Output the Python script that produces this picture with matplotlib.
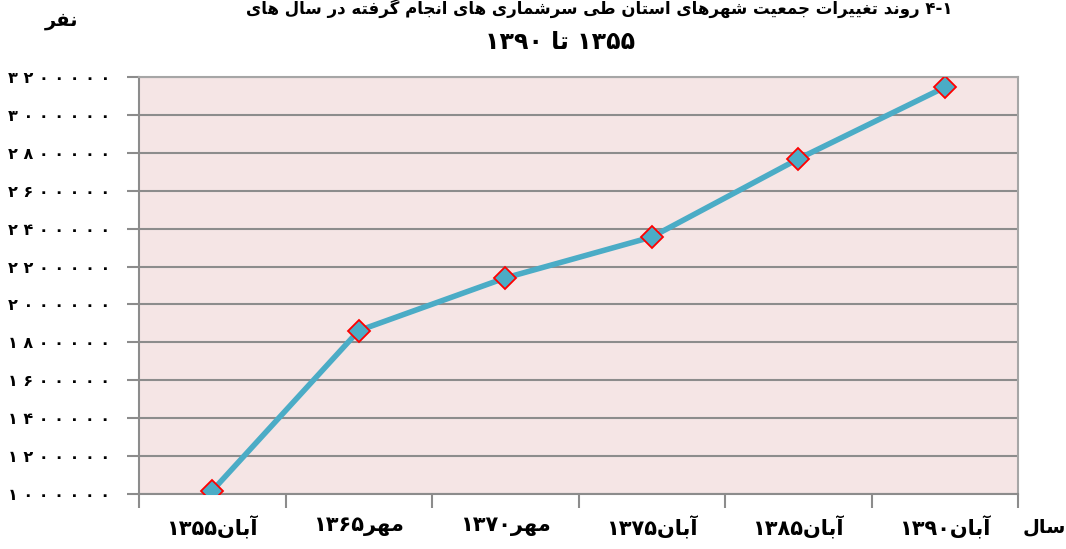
import re
import matplotlib
matplotlib.use('Agg')
import matplotlib.pyplot as plt

# data
categories = ['آبان۱۳۵۵', 'مهر۱۳۶۵', 'مهر۱۳۷۰', 'آبان۱۳۷۵', 'آبان۱۳۸۵', 'آبان۱۳۹۰']
population = [1017000, 1862000, 2140000, 2356000, 2768000, 3146000]
y_ticks = [1000000, 1200000, 1400000, 1600000, 1800000, 2000000,
           2200000, 2400000, 2600000, 2800000, 3000000, 3200000]

title_1 = '۴-۱ روند تغییرات جمعیت شهرهای استان طی سرشماری های انجام گرفته در سال های'
title_2 = '۱۳۵۵ تا ۱۳۹۰'
y_label = 'نفر'
x_label = 'سال'

# arabic presentation forms: isolated, final, initial, medial
FORMS = {
    'ا': ('\uFE8D', '\uFE8E', None, None),
    'آ': ('\uFE81', '\uFE82', None, None),
    'ب': ('\uFE8F', '\uFE90', '\uFE91', '\uFE92'),
    'ت': ('\uFE95', '\uFE96', '\uFE97', '\uFE98'),
    'ج': ('\uFE9D', '\uFE9E', '\uFE9F', '\uFEA0'),
    'د': ('\uFEA9', '\uFEAA', None, None),
    'ر': ('\uFEAD', '\uFEAE', None, None),
    'س': ('\uFEB1', '\uFEB2', '\uFEB3', '\uFEB4'),
    'ش': ('\uFEB5', '\uFEB6', '\uFEB7', '\uFEB8'),
    'ط': ('\uFEC1', '\uFEC2', '\uFEC3', '\uFEC4'),
    'ع': ('\uFEC9', '\uFECA', '\uFECB', '\uFECC'),
    'غ': ('\uFECD', '\uFECE', '\uFECF', '\uFED0'),
    'ف': ('\uFED1', '\uFED2', '\uFED3', '\uFED4'),
    'ل': ('\uFEDD', '\uFEDE', '\uFEDF', '\uFEE0'),
    'م': ('\uFEE1', '\uFEE2', '\uFEE3', '\uFEE4'),
    'ن': ('\uFEE5', '\uFEE6', '\uFEE7', '\uFEE8'),
    'ه': ('\uFEE9', '\uFEEA', '\uFEEB', '\uFEEC'),
    'و': ('\uFEED', '\uFEEE', None, None),
    'ی': ('\uFBFC', '\uFBFD', '\uFBFE', '\uFBFF'),
    'گ': ('\uFB92', '\uFB93', '\uFB94', '\uFB95'),
    'ک': ('\uFB8E', '\uFB8F', '\uFB90', '\uFB91'),
}


def shape(s):
    out = []
    for i, c in enumerate(s):
        if c not in FORMS:
            out.append(c)
            continue
        iso, fin, ini, med = FORMS[c]
        prev = s[i - 1] if i > 0 else ''
        nxt = s[i + 1] if i + 1 < len(s) else ''
        jp = prev in FORMS and FORMS[prev][2] is not None
        jn = ini is not None and nxt in FORMS
        if jp and jn:
            out.append(med)
        elif jp:
            out.append(fin)
        elif jn:
            out.append(ini)
        else:
            out.append(iso)
    return ''.join(out)


def rtl(s):
    # shape letters, then lay out right-to-left keeping digit runs as they are
    s = shape(s)
    runs = re.findall(r'[\u06F0-\u06F9\-]+|[^\u06F0-\u06F9\-]+', s)
    return ''.join(r if re.match(r'[\u06F0-\u06F9]', r) else r[::-1]
                   for r in reversed(runs))


def fa_digits(v):
    return ' '.join(str(v).translate(str.maketrans('0123456789', '۰۱۲۳۴۵۶۷۸۹')))


plt.rcParams['font.family'] = ['DejaVu Sans']
plt.rcParams['font.weight'] = 'bold'

fig = plt.figure(figsize=(10.66, 5.49), dpi=100)
ax = fig.add_axes([0.1304, 0.1002, 0.8246, 0.7595])
ax.set_facecolor('#F5E5E5')

x = list(range(len(categories)))
ax.plot(x, population, color='#4BACC6', lw=4, marker='D', ms=11,
        mfc='#4BACC6', mec='#FF0000', mew=1.3, zorder=3)

ax.set_xlim(-0.5, len(categories) - 0.5)
ax.set_ylim(y_ticks[0], y_ticks[-1])
ax.set_yticks(y_ticks)
ax.set_yticklabels([fa_digits(v) for v in y_ticks], fontsize=11.5, fontweight='bold')
ax.yaxis.grid(True, color='#8C8C8C', lw=1.5)
ax.set_axisbelow(True)

ax.set_xticks([i - 0.5 for i in range(len(categories) + 1)])
ax.set_xticklabels([])
ax.set_xticks(x, minor=True)
ax.set_xticklabels([rtl(c) for c in categories], minor=True, fontsize=15,
                   fontweight='bold')
ax.tick_params(axis='x', which='major', length=10, color='#8C8C8C', width=1.5)
ax.tick_params(axis='x', which='minor', length=0, pad=16)
ax.tick_params(axis='y', length=9, color='#8C8C8C', width=1.5, pad=12)

for side in ['left', 'bottom']:
    ax.spines[side].set_color('#8C8C8C')
    ax.spines[side].set_linewidth(1.5)
for side in ['top', 'right']:
    ax.spines[side].set_color('#A6A6A6')
    ax.spines[side].set_linewidth(1.5)

fig.text(0.562, 0.985, rtl(title_1), ha='center', va='center', fontsize=12,
         fontweight='bold')
fig.text(0.525, 0.923, rtl(title_2), ha='center', va='center', fontsize=17,
         fontweight='bold')
fig.text(0.058, 0.963, rtl(y_label), ha='center', va='center', fontsize=14,
         fontweight='bold')
fig.text(0.98, 0.04, rtl(x_label), ha='center', va='center', fontsize=14,
         fontweight='bold')

fig.savefig('out.png', dpi=100)
